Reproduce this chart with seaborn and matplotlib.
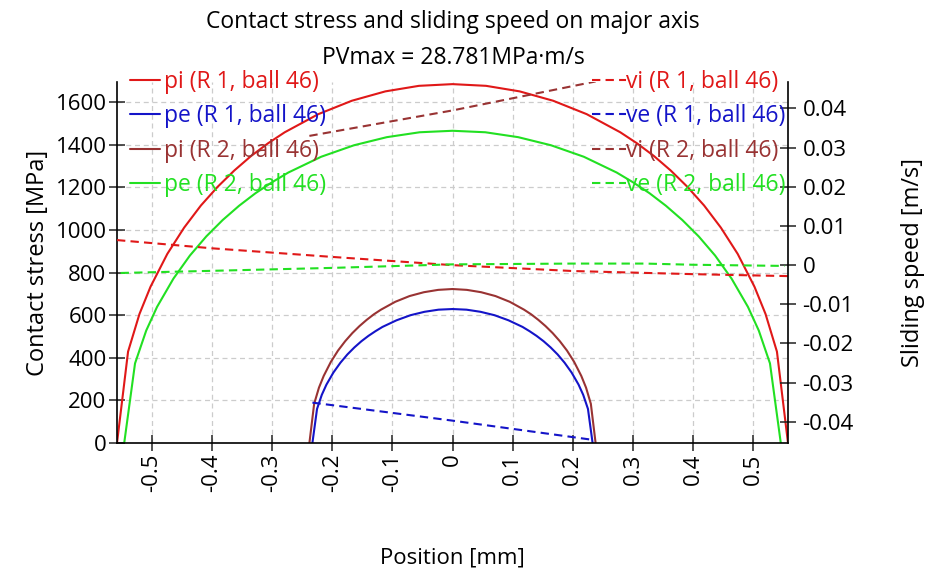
import matplotlib
matplotlib.use("Agg")
import matplotlib.pyplot as plt
import seaborn as sns
import pandas as pd
from matplotlib.lines import Line2D

# ---------------- data ----------------
# Contact stress, inner ring (pi) and outer ring (pe)
x_pi_r1 = [-0.558, -0.5396, -0.5206, -0.5022, -0.4743, -0.4464, -0.4185, -0.3906, -0.3627, -0.3348, -0.3069, -0.279,
           -0.2232, -0.1674, -0.1116, -0.0558, 0,
           0.0558, 0.1116, 0.1674, 0.2232, 0.279, 0.3069, 0.3348, 0.3627, 0.3906, 0.4185, 0.4464, 0.4743, 0.5022,
           0.5206, 0.5396, 0.558]
p_pi_r1 = [0, 429, 606, 734, 888, 1011, 1115, 1203, 1280, 1348, 1407, 1459,
           1544, 1607, 1651, 1677, 1685,
           1677, 1651, 1607, 1544, 1459, 1407, 1348, 1280, 1203, 1115, 1011, 888, 734,
           606, 429, 0]

x_pe_r1 = [-0.233, -0.2253, -0.2174, -0.2097, -0.19805, -0.1864, -0.17475, -0.1631, -0.15145, -0.1398, -0.12815, -0.1165,
           -0.0932, -0.0699, -0.0466, -0.0233, 0,
           0.0233, 0.0466, 0.0699, 0.0932, 0.1165, 0.12815, 0.1398, 0.15145, 0.1631, 0.17475, 0.1864, 0.19805, 0.2097,
           0.2174, 0.2253, 0.233]
p_pe_r1 = [0, 160, 226, 274, 331, 377, 416, 449, 478, 503, 525, 545,
           576, 600, 616, 626, 629,
           626, 616, 600, 576, 545, 525, 503, 478, 449, 416, 377, 331, 274,
           226, 160, 0]

x_pi_r2 = [-0.238, -0.2301, -0.2221, -0.2142, -0.2023, -0.1904, -0.1785, -0.1666, -0.1547, -0.1428, -0.1309, -0.119,
           -0.0952, -0.0714, -0.0476, -0.0238, 0,
           0.0238, 0.0476, 0.0714, 0.0952, 0.119, 0.1309, 0.1428, 0.1547, 0.1666, 0.1785, 0.1904, 0.2023, 0.2142,
           0.2221, 0.2301, 0.238]
p_pi_r2 = [0, 184, 260, 315, 381, 434, 478, 516, 549, 578, 604, 626,
           663, 690, 708, 719, 723,
           719, 708, 690, 663, 626, 604, 578, 549, 516, 478, 434, 381, 315,
           260, 184, 0]

x_pe_r2 = [-0.546, -0.528, -0.5094, -0.4914, -0.4641, -0.4368, -0.4095, -0.3822, -0.3549, -0.3276, -0.3003, -0.273,
           -0.2184, -0.1638, -0.1092, -0.0546, 0,
           0.0546, 0.1092, 0.1638, 0.2184, 0.273, 0.3003, 0.3276, 0.3549, 0.3822, 0.4095, 0.4368, 0.4641, 0.4914,
           0.5094, 0.528, 0.546]
p_pe_r2 = [0, 374, 528, 639, 772, 880, 970, 1047, 1114, 1173, 1224, 1270,
           1344, 1398, 1436, 1459, 1466,
           1459, 1436, 1398, 1344, 1270, 1224, 1173, 1114, 1047, 970, 880, 772, 639,
           528, 374, 0]

# Sliding speed, inner (vi) and outer (ve)
x_vi_r1 = [-0.558, -0.4, -0.2, 0, 0.2, 0.4, 0.558]
v_vi_r1 = [0.0064, 0.0043, 0.0021, 0.0, -0.0015, -0.0023, -0.0028]

x_ve_r1 = [-0.233, 0, 0.233]
v_ve_r1 = [-0.0351, -0.0397, -0.0446]

x_vi_r2 = [-0.238, 0, 0.238]
v_vi_r2 = [0.0330, 0.0395, 0.0469]

x_ve_r2 = [-0.552, -0.4, -0.2, 0, 0.2, 0.32, 0.4, 0.552]
v_ve_r2 = [-0.0020, -0.00145, -0.0007, 0.0002, 0.0004, 0.0004, 0.0001, -0.0002]

p_labels = ["pi (R 1, ball 46)", "pe (R 1, ball 46)", "pi (R 2, ball 46)", "pe (R 2, ball 46)"]
v_labels = ["vi (R 1, ball 46)", "ve (R 1, ball 46)", "vi (R 2, ball 46)", "ve (R 2, ball 46)"]
x_ticks = [-0.5, -0.4, -0.3, -0.2, -0.1, 0, 0.1, 0.2, 0.3, 0.4, 0.5]
x_ticklabels = ["-0.5", "-0.4", "-0.3", "-0.2", "-0.1", "0", "0.1", "0.2", "0.3", "0.4", "0.5"]
y_ticks = [0, 200, 400, 600, 800, 1000, 1200, 1400, 1600]
v_ticks = [-0.04, -0.03, -0.02, -0.01, 0, 0.01, 0.02, 0.03, 0.04]
v_ticklabels = ["-0.04", "-0.03", "-0.02", "-0.01", "0", "0.01", "0.02", "0.03", "0.04"]

title1 = "Contact stress and sliding speed on major axis"
title2 = "PVmax = 28.781MPa·m/s"

colors = ["#e01818", "#1414c8", "#993333", "#22e022"]

# ---------------- figure ----------------
sns.set_theme(style="white")
plt.rcParams['font.family'] = ['Open Sans', 'DejaVu Sans']
plt.rcParams['text.color'] = 'black'
plt.rcParams['axes.labelcolor'] = 'black'
plt.rcParams['xtick.color'] = 'black'
plt.rcParams['ytick.color'] = 'black'

fig = plt.figure(figsize=(9.29, 5.74), dpi=100)
ax = fig.add_axes([117/929, 1-443/574, (788-117)/929, (443-82)/574])
ax2 = ax.twinx()

p_sets = [(x_pi_r1, p_pi_r1), (x_pe_r1, p_pe_r1), (x_pi_r2, p_pi_r2), (x_pe_r2, p_pe_r2)]
v_sets = [(x_vi_r1, v_vi_r1), (x_ve_r1, v_ve_r1), (x_vi_r2, v_vi_r2), (x_ve_r2, v_ve_r2)]

for (xs, ys), c in zip(p_sets, colors):
    df = pd.DataFrame({"x": xs, "y": ys})
    sns.lineplot(data=df, x="x", y="y", ax=ax, color=c, lw=1.5, sort=False, legend=False)

for (xs, ys), c in zip(v_sets, colors):
    df = pd.DataFrame({"x": xs, "y": ys})
    sns.lineplot(data=df, x="x", y="y", ax=ax2, color=c, lw=1.5, sort=False, legend=False,
                 dashes=False, linestyle=(0, (4, 2.5)))

ax.set_xlim(-0.558, 0.558)
ax.set_ylim(0, 1695)
ax2.set_ylim(-0.04541, 0.04676)

tfs = 16
ax.set_xticks(x_ticks)
ax.set_xticklabels(x_ticklabels, rotation=90, fontsize=tfs)
ax.set_yticks(y_ticks)
ax.set_yticklabels([str(t) for t in y_ticks], fontsize=tfs)
ax2.set_yticks(v_ticks)
ax2.set_yticklabels(v_ticklabels, fontsize=tfs)

ax.grid(True, color="#cccccc", linestyle=(0, (4, 3)), lw=0.9)
ax2.grid(False)

for a in (ax, ax2):
    for s in a.spines.values():
        s.set_visible(False)
ax.spines['left'].set_visible(True)
ax.spines['bottom'].set_visible(True)
ax2.spines['right'].set_visible(True)
for sname in ('left', 'bottom'):
    ax.spines[sname].set_color('black')
    ax.spines[sname].set_linewidth(1.2)
ax2.spines['right'].set_color('black')
ax2.spines['right'].set_linewidth(1.2)

ax.tick_params(axis='both', direction='inout', length=11, width=1.1, color='#222222', pad=2,
               bottom=True, left=True)
ax2.tick_params(axis='y', direction='inout', length=11, width=1.1, color='#222222', pad=5, right=True)

ax.set_xlabel("Position [mm]", fontsize=16, labelpad=40)
ax.set_ylabel("Contact stress [MPa]", fontsize=17, labelpad=4)
ax2.set_ylabel("Sliding speed [m/s]", fontsize=17, labelpad=34)

fig.text(453/929, 1-22/574, title1, ha='center', va='center', fontsize=16.5)
fig.text(453/929, 1-58/574, title2, ha='center', va='center', fontsize=16.5)

h1 = [Line2D([0], [0], color=c, lw=1.5) for c in colors]
h2 = [Line2D([0], [0], color=c, lw=1.5, linestyle=(0, (4, 2.5))) for c in colors]
lfs = 16.5
leg1 = ax.legend(h1, p_labels, loc='upper left', bbox_to_anchor=(130/929, 1-70/574),
                 bbox_transform=fig.transFigure, frameon=False, fontsize=lfs,
                 labelcolor='linecolor', handlelength=1.3, handletextpad=0.2,
                 labelspacing=0.45, borderpad=0, borderaxespad=0)
leg2 = ax2.legend(h2, v_labels, loc='upper right', bbox_to_anchor=(786/929, 1-70/574),
                  bbox_transform=fig.transFigure, frameon=False, fontsize=lfs,
                  labelcolor='linecolor', handlelength=1.5, handletextpad=0.0,
                  labelspacing=0.45, borderpad=0, borderaxespad=0)

fig.savefig("out.png", dpi=100)
